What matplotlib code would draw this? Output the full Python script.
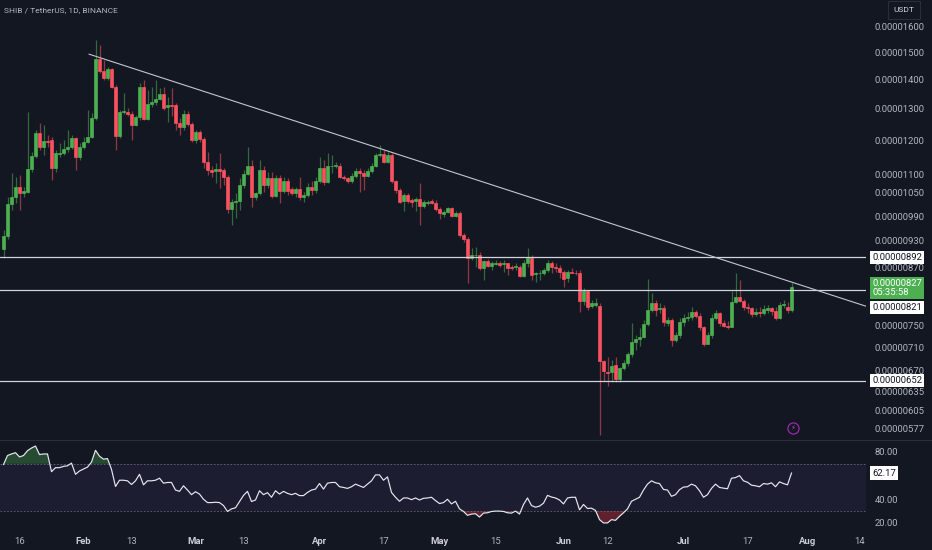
import numpy as np
import pandas as pd
import matplotlib
matplotlib.use("Agg")
import matplotlib.pyplot as plt
import matplotlib.transforms as mtransforms
from matplotlib.ticker import FixedLocator, FuncFormatter, NullLocator, NullFormatter

plt.rcParams['font.family'] = ['Roboto', 'DejaVu Sans']

# ---------------- data (prices in units of 1e-8 USDT) ----------------
SCALE = 1e-8
start_date = "2023-01-12"

opens = [910, 942, 1021, 1038, 1067, 1051, 1053, 1115, 1154, 1222,
         1181, 1199, 1201, 1118, 1158, 1163, 1173, 1181, 1207, 1150,
         1181, 1196, 1211, 1270, 1476, 1429, 1407, 1437, 1375, 1213,
         1288, 1290, 1284, 1247, 1272, 1375, 1267, 1315, 1321, 1331,
         1348, 1306, 1314, 1312, 1254, 1240, 1284, 1251, 1201, 1226,
         1205, 1137, 1113, 1110, 1115, 1113, 1094, 1007, 1026, 1029,
         1072, 1102, 1125, 1038, 1049, 1113, 1070, 1091, 1043, 1091,
         1056, 1083, 1060, 1049, 1060, 1040, 1045, 1067, 1058, 1083,
         1118, 1079, 1123, 1123, 1125, 1094, 1090, 1083, 1096, 1111,
         1104, 1096, 1110, 1125, 1157, 1160, 1137, 1157, 1081, 1058,
         1029, 1045, 1031, 1028, 1035, 1016, 1024, 1028, 1024, 1007,
         995, 1000, 1010, 990, 999, 944, 934, 890, 896, 898,
         868, 884, 873, 877, 879, 876, 878, 871, 870, 871,
         851, 880, 890, 854, 856, 858, 863, 880, 871, 868,
         859, 846, 860, 858, 856, 798, 818, 789, 791, 789,
         685, 667, 667, 678, 655, 674, 682, 697, 720, 724,
         728, 753, 780, 794, 782, 784, 755, 761, 723, 732,
         756, 765, 766, 777, 768, 747, 716, 732, 765, 774,
         755, 750, 748, 796, 807, 799, 787, 784, 773, 776,
         774, 781, 784, 778, 765, 790, 787, 780]

highs = [956, 1040, 1104, 1094, 1099, 1067, 1290, 1166, 1232, 1254,
         1249, 1215, 1211, 1171, 1191, 1201, 1232, 1216, 1211, 1191,
         1211, 1296, 1285, 1548, 1530, 1472, 1447, 1441, 1381, 1296,
         1353, 1301, 1291, 1280, 1387, 1399, 1364, 1375, 1399, 1370,
         1375, 1340, 1370, 1318, 1269, 1296, 1291, 1258, 1232, 1232,
         1211, 1166, 1123, 1133, 1161, 1118, 1099, 1035, 1049, 1090,
         1113, 1180, 1142, 1053, 1142, 1123, 1108, 1108, 1099, 1099,
         1094, 1090, 1067, 1067, 1094, 1053, 1076, 1081, 1094, 1151,
         1142, 1161, 1157, 1137, 1133, 1099, 1094, 1104, 1118, 1118,
         1113, 1118, 1133, 1161, 1186, 1171, 1166, 1161, 1085, 1062,
         1049, 1049, 1036, 1040, 1076, 1031, 1031, 1033, 1031, 1014,
         1006, 1014, 1014, 1002, 1002, 949, 939, 912, 916, 904,
         886, 887, 883, 886, 883, 886, 880, 875, 879, 875,
         886, 912, 896, 860, 864, 868, 886, 884, 879, 875,
         864, 864, 868, 864, 864, 825, 821, 800, 804, 794,
         687, 693, 687, 693, 675, 687, 701, 755, 732, 746,
         761, 845, 814, 800, 794, 791, 767, 765, 738, 765,
         772, 777, 786, 780, 774, 750, 738, 772, 780, 777,
         761, 758, 818, 856, 842, 803, 794, 787, 784, 787,
         791, 790, 787, 787, 796, 800, 796, 835]

lows = [890, 935, 1006, 1023, 1006, 1040, 1049, 1108, 1147, 1171,
        1157, 1180, 1085, 1108, 1151, 1157, 1166, 1175, 1113, 1142,
        1175, 1191, 1206, 1264, 1423, 1399, 1399, 1370, 1171, 1206,
        1284, 1275, 1201, 1244, 1264, 1264, 1264, 1306, 1312, 1329,
        1296, 1258, 1275, 1232, 1216, 1232, 1244, 1196, 1191, 1196,
        1118, 1099, 1094, 1076, 1062, 1072, 997, 968, 986, 1006,
        1062, 1099, 1014, 1031, 1045, 1053, 1062, 1036, 1040, 1023,
        1049, 1045, 1045, 1040, 1031, 1027, 1040, 1045, 1049, 1076,
        1072, 1076, 1104, 1118, 1090, 1085, 1076, 1076, 1090, 1053,
        1058, 1094, 1104, 1121, 1151, 1133, 1133, 1076, 1049, 1023,
        1002, 1023, 1014, 1002, 968, 1010, 1018, 1021, 1004, 984,
        988, 997, 987, 987, 940, 928, 835, 886, 871, 864,
        842, 870, 864, 875, 871, 860, 853, 864, 864, 849,
        848, 870, 842, 838, 842, 853, 860, 858, 860, 846,
        828, 838, 856, 852, 777, 791, 780, 784, 787, 568,
        651, 643, 650, 650, 650, 670, 677, 693, 705, 712,
        726, 750, 777, 769, 775, 750, 749, 712, 720, 726,
        750, 758, 761, 765, 742, 712, 715, 727, 761, 750,
        747, 744, 747, 794, 796, 780, 774, 767, 768, 767,
        770, 775, 770, 761, 763, 784, 774, 777]

closes = [942, 1021, 1038, 1067, 1051, 1056, 1115, 1154, 1222, 1181,
          1199, 1196, 1118, 1161, 1163, 1173, 1181, 1207, 1150, 1181,
          1196, 1211, 1270, 1476, 1429, 1407, 1437, 1375, 1213, 1288,
          1292, 1284, 1249, 1272, 1375, 1267, 1315, 1321, 1331, 1348,
          1304, 1314, 1309, 1254, 1240, 1284, 1251, 1201, 1226, 1205,
          1137, 1113, 1108, 1115, 1111, 1094, 1007, 1027, 1029, 1072,
          1102, 1125, 1038, 1049, 1113, 1072, 1091, 1043, 1091, 1056,
          1083, 1056, 1051, 1060, 1040, 1045, 1067, 1058, 1083, 1118,
          1079, 1123, 1125, 1126, 1094, 1090, 1083, 1096, 1111, 1104,
          1096, 1110, 1125, 1157, 1160, 1137, 1157, 1081, 1058, 1027,
          1045, 1029, 1027, 1035, 1016, 1027, 1027, 1024, 1007, 997,
          1000, 1010, 990, 999, 944, 934, 890, 898, 898, 868,
          884, 873, 879, 880, 875, 879, 868, 867, 873, 851,
          880, 890, 853, 856, 858, 863, 880, 870, 868, 859,
          845, 860, 858, 856, 798, 818, 787, 794, 795, 685,
          668, 665, 677, 655, 674, 682, 697, 720, 724, 728,
          753, 780, 794, 780, 784, 756, 760, 723, 732, 756,
          765, 767, 777, 768, 747, 716, 732, 765, 774, 755,
          750, 748, 796, 807, 799, 787, 784, 773, 776, 774,
          783, 784, 778, 765, 790, 792, 780, 827]

rsi_values = [69.4, 77.0, 78.3, 79.4, 75.8, 77.0, 81.1, 83.3, 85.0, 77.8,
              78.3, 78.3, 63.3, 66.7, 66.7, 67.8, 68.3, 70.6, 61.1, 63.9,
              65.6, 67.2, 71.4, 81.4, 76.4, 73.9, 74.4, 65.3, 50.8, 56.1,
              56.1, 55.6, 52.5, 55.6, 61.1, 52.2, 55.6, 55.6, 56.1, 57.8,
              53.6, 54.2, 54.2, 47.8, 46.7, 51.4, 47.8, 43.9, 46.4, 44.4,
              40.0, 37.2, 37.2, 37.5, 37.2, 34.7, 29.7, 31.9, 32.8, 38.1,
              43.3, 46.7, 38.1, 39.4, 47.2, 43.9, 45.6, 41.7, 47.2, 44.4,
              46.7, 45.0, 43.9, 45.0, 43.1, 43.1, 45.8, 47.8, 48.6, 53.3,
              48.6, 53.6, 54.2, 54.2, 50.6, 50.0, 49.2, 50.6, 52.8, 51.4,
              50.0, 52.8, 55.6, 60.6, 60.6, 56.1, 58.9, 45.8, 41.7, 38.3,
              41.1,
              41.1, 39.7, 41.1, 39.4, 40.8, 41.1, 41.7, 38.9, 36.4,
              37.2, 40.0, 36.1, 38.3, 31.9, 29.7, 26.4, 27.5, 27.8, 25.0,
              28.3, 28.6, 29.7, 30.0, 30.0, 29.7, 28.6, 28.3, 30.0, 27.5,
              35.6, 41.1, 34.7, 33.3, 34.2, 36.7, 43.3, 41.9, 41.1, 39.4,
              36.1, 41.1, 41.7, 41.7, 31.1, 35.6, 32.2, 32.5, 30.6, 22.8,
              20.0, 20.0, 22.8, 22.2, 25.6, 28.6, 31.9, 38.3, 40.0, 41.7,
              47.8, 52.8, 55.6, 53.9, 53.3, 48.3, 47.8, 42.5, 43.9, 48.1,
              50.3, 50.6, 52.8, 51.4, 47.2, 41.7, 43.9, 49.2, 52.8, 50.0,
              49.4, 48.9, 57.8, 58.3, 60.0, 55.6, 54.4, 51.9, 51.4, 50.6,
              53.3, 52.8, 53.9, 50.6, 54.7, 53.3, 52.2, 62.17]

level_lines = [892, 821, 652]
trend_dates = ["2023-02-02 10:00", "2023-08-15 12:00"]
trend_prices = [1493, 788]

price_ticks = [1600, 1500, 1400, 1300, 1200, 1100, 1050, 990, 930, 870,
               750, 710, 670, 635, 605, 577]
rsi_ticks = [80, 40, 20]
xtick_dates = ["2023-01-16", "2023-02-01", "2023-02-13", "2023-03-01", "2023-03-13",
               "2023-04-01", "2023-04-17", "2023-05-01", "2023-05-15", "2023-06-01",
               "2023-06-12", "2023-07-01", "2023-07-17", "2023-08-01", "2023-08-14"]
xtick_labels = ["16", "Feb", "13", "Mar", "13", "Apr", "17", "May", "15", "Jun",
                "12", "Jul", "17", "Aug", "14"]
title_text = "SHIB / TetherUS, 1D, BINANCE"
countdown = "05:35:58"

# ---------------- styling ----------------
BG = "#131722"
UP = "#4caf50"
DOWN = "#f7525f"
TXT = "#b2b5be"
W, H = 932, 550
REF = pd.Timestamp("2023-02-01")

fig = plt.figure(figsize=(W / 100, H / 100), dpi=100, facecolor=BG)
ax = fig.add_axes([0, 110 / H, 866 / W, 440 / H], facecolor=BG)
axr = fig.add_axes([0, 17 / H, 866 / W, 93 / H], facecolor=BG)

dates = pd.date_range(start_date, periods=len(closes), freq="D")
x = np.asarray((dates - REF).days, dtype=float)
o = np.array(opens) * SCALE
h = np.array(highs) * SCALE
l = np.array(lows) * SCALE
c = np.array(closes) * SCALE
up = c >= o
cols = np.where(up, UP, DOWN)

ax.set_yscale("log")
# wicks
ax.vlines(x, l, h, colors=cols, linewidth=0.9, alpha=0.55, zorder=2)
# bodies
ax.bar(x, np.abs(c - o), bottom=np.minimum(o, c), width=0.72, color=cols,
       edgecolor=cols, linewidth=0.5, zorder=3)

# horizontal levels
for p in level_lines:
    ax.axhline(p * SCALE, color="#d1d4dc", lw=0.9, zorder=4)

# trendline
tx = np.asarray((pd.to_datetime(trend_dates) - REF) / pd.Timedelta(days=1), dtype=float)
ax.plot(tx, np.array(trend_prices) * SCALE, color="#c3c6ce", lw=0.8, zorder=4)

# limits: 4 px per day, Feb 1 at x=83.5 px
x_left = (0 - 83.5) / 4
x_right = (866 - 83.5) / 4
for a in (ax, axr):
    a.set_xlim(x_left, x_right)
    for s in a.spines.values():
        s.set_visible(False)
ax.set_ylim(561 * SCALE, 1713 * SCALE)

ax.yaxis.tick_right()
ax.yaxis.set_major_locator(FixedLocator([t * SCALE for t in price_ticks]))
ax.yaxis.set_major_formatter(FuncFormatter(lambda v, pos: f"{v:.8f}"))
ax.yaxis.set_minor_locator(NullLocator())
ax.yaxis.set_minor_formatter(NullFormatter())
ax.tick_params(axis="y", length=0, pad=6, labelsize=6.8, labelcolor=TXT)
ax.set_xticks([])

# price labels on the scale
ytrans = ax.get_yaxis_transform()
lab_kw = dict(fontsize=6.8, va="center", ha="left", zorder=10, clip_on=False)
for p in level_lines:
    tr = ytrans
    if p == 821:
        tr = mtransforms.offset_copy(ytrans, fig=fig, y=-18, units="dots")
    ax.text(1.007, p * SCALE, f"{p * SCALE:.8f}", transform=tr, color=BG,
            bbox=dict(boxstyle="square,pad=0.22", fc="white", ec="none"), **lab_kw)
trg = mtransforms.offset_copy(ytrans, fig=fig, y=-1, units="dots")
ax.text(1.007, c[-1], f"{c[-1]:.8f}\n{countdown}", transform=trg, color="white",
        linespacing=1.05,
        bbox=dict(boxstyle="square,pad=0.18", fc=UP, ec="none"), **lab_kw)

# lightning icon
icon_x = (793 - 83.5) / 4
ax.plot([icon_x], [578 * SCALE], "o", ms=8, mfc="none", mec="#9c27b0", mew=0.9, zorder=5)
ax.text(icon_x, 578 * SCALE, "\u26a1", color="#ab47bc", fontsize=5, ha="center",
        va="center", zorder=6)

# ---------------- RSI pane ----------------
r = np.array(rsi_values)
axr.set_ylim(11.5, 90.1)
axr.axhspan(30, 70, color="#7e57c2", alpha=0.10, lw=0)
for lvl in (70, 30):
    axr.axhline(lvl, color="#787b86", lw=0.6, ls=(0, (2, 2)), alpha=0.8)
axr.fill_between(x, r, 70, where=r >= 70, interpolate=True, color=UP, alpha=0.35, lw=0)
axr.fill_between(x, r, 30, where=r <= 30, interpolate=True, color="#f23645", alpha=0.35, lw=0)
axr.plot(x, r, color="#e6e8ee", lw=0.85, zorder=5)

axr.yaxis.tick_right()
axr.set_yticks(rsi_ticks)
axr.yaxis.set_major_formatter(FuncFormatter(lambda v, pos: f"{v:.2f}"))
axr.tick_params(axis="y", length=0, pad=6, labelsize=6.8, labelcolor=TXT)
axr.text(1.007, r[-1], f"{r[-1]:.2f}", transform=axr.get_yaxis_transform(), color=BG,
         bbox=dict(boxstyle="square,pad=0.22", fc="white", ec="none"), **lab_kw)

xt = np.asarray((pd.to_datetime(xtick_dates) - REF).days, dtype=float)
axr.set_xticks(xt)
axr.set_xticklabels(xtick_labels)
axr.tick_params(axis="x", length=0, pad=3, labelsize=6.8, labelcolor=TXT)
for lbl, txt in zip(axr.get_xticklabels(), xtick_labels):
    if not txt.isdigit():
        lbl.set_fontweight("bold")
        lbl.set_color("#c9ccd4")

# pane separator
fig.add_artist(plt.Line2D([0, 1], [110 / H, 110 / H], color="#2a2e39", lw=0.8))

# header texts
fig.text(4 / W, 1 - 10 / H, title_text, fontsize=6, color=TXT, va="center", ha="left")
fig.text(904 / W, 1 - 10 / H, "USDT", fontsize=6, color="#d1d4dc", va="center", ha="center",
         bbox=dict(boxstyle="square,pad=0.7", fc=BG, ec="#2a2e39", lw=0.8))

fig.savefig("out.png", dpi=100, facecolor=BG)
